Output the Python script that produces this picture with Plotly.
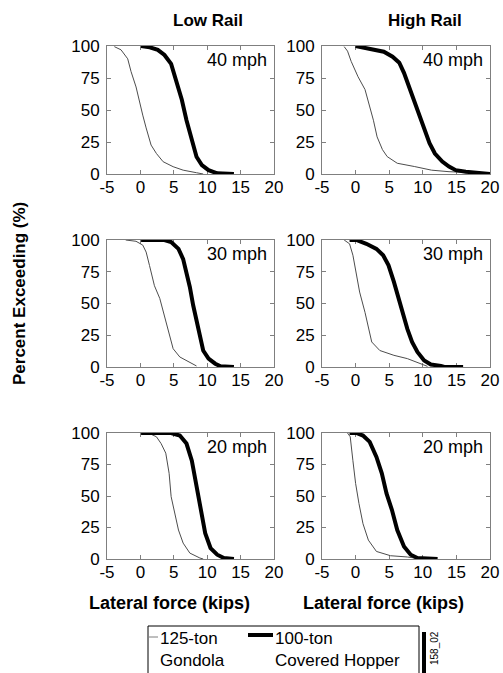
import plotly.graph_objects as go

W, H = 503, 673
FONT = "Liberation Sans, Arial, sans-serif"

# ---------------- data ----------------
column_titles = ["Low Rail", "High Rail"]
speed_labels = ["40 mph", "30 mph", "20 mph"]
x_ticks = [-5, 0, 5, 10, 15, 20]
x_tick_labels = ["-5", "0", "5", "10", "15", "20"]
y_ticks = [0, 25, 50, 75, 100]
series_names = ["125-ton<br>Gondola", "100-ton<br>Covered Hopper"]

# Low rail, 40 mph
low40_gon_x = [-3.9, -2.9, -1.9, -1.4, -0.65, -0.15, 0.35, 0.86, 1.6, 2.4, 3.4, 4.9, 6.4, 8.4, 9.4]
low40_gon_y = [99.5, 97, 90, 80, 68, 56.5, 46, 36, 22.6, 16, 9.6, 5.7, 3, 1, 0]
low40_hop_x = [0.1, 1.4, 2.6, 3.6, 4.6, 5.4, 6.2, 6.9, 7.7, 8.4, 9.2, 10.2, 11.5, 14.0]
low40_hop_y = [100, 99, 97, 93, 86, 73, 58, 42, 26.5, 13.5, 7, 3, 0.5, 0]

# High rail, 40 mph
high40_gon_x = [-1.7, -1.2, -0.66, 0.36, 1.4, 2.1, 2.65, 3.2, 4.0, 4.7, 6.2, 8.8, 11.3, 13.9, 17.0, 20.0]
high40_gon_y = [99.5, 96, 88, 76, 66, 53, 42, 29, 19, 13.6, 8.4, 5.8, 3, 1.8, 1.3, 0.5]
high40_hop_x = [0.0, 1.1, 2.65, 4.2, 5.5, 6.5, 7.2, 8.0, 8.8, 9.5, 10.3, 11.0, 11.8, 12.9, 13.9, 14.9, 16.4, 17.9, 19.0, 20.0]
high40_hop_y = [100, 98.7, 97, 95.5, 91.6, 87, 79, 67, 55.5, 45, 34.5, 24, 16, 9.7, 5.8, 3, 1.8, 1, 0, 0]

# Low rail, 30 mph
low30_gon_x = [-2.2, -0.66, 0.35, 0.86, 1.36, 2.1, 2.9, 3.6, 4.4, 4.9, 5.9, 7.2, 8.4]
low30_gon_y = [100, 99, 96, 90.5, 80, 64, 54, 40.7, 25, 14.4, 7.9, 3.9, 0.8]
low30_hop_x = [0.1, 3.6, 4.6, 5.7, 6.4, 6.9, 7.4, 7.9, 8.4, 8.9, 9.4, 10.2, 11.2, 12.0, 14.0]
low30_hop_y = [100, 100, 98.4, 93, 85, 75, 63, 48.6, 35.4, 22.3, 13, 6.6, 2.6, 0.5, 0]

# High rail, 30 mph
high30_gon_x = [-1.7, -0.9, -0.4, 0.1, 0.6, 1.4, 1.9, 2.4, 3.6, 5.7, 7.7, 9.7, 10.7]
high30_gon_y = [100, 97, 88, 72, 59, 43, 30, 19.7, 13, 9.2, 6.6, 2.6, 0.5]
high30_hop_x = [-0.9, 0.1, 1.6, 3.1, 4.1, 4.9, 5.7, 6.4, 6.9, 7.7, 8.4, 9.2, 10.2, 11.2, 12.7, 13.2, 16.0]
high30_hop_y = [100, 100, 97, 93, 88, 80, 67, 54, 43, 30, 19.7, 11.8, 5.2, 2, 0.8, 0, 0]

# Low rail, 20 mph
low20_gon_x = [0.1, 1.4, 2.4, 3.1, 3.8, 4.3, 4.6, 5.2, 5.7, 6.4, 7.4, 8.9, 9.4]
low20_gon_y = [100, 99.5, 97, 91.6, 84, 68, 49.5, 36, 23, 12.6, 4.7, 0.8, 0]
low20_hop_x = [0.1, 4.6, 5.9, 6.9, 7.7, 8.2, 8.7, 9.2, 9.7, 10.5, 11.5, 12.5, 14.0]
low20_hop_y = [100, 100, 98, 91.6, 78, 62.6, 47, 33.7, 20.5, 8.7, 3.4, 0.8, 0]

# High rail, 20 mph
high20_gon_x = [-1.2, -0.8, -0.4, 0.0, 0.5, 1.1, 1.9, 3.1, 5.2, 7.7, 9.7]
high20_gon_y = [100, 97, 78, 60, 44, 28, 15, 6, 2.6, 1.6, 0]
high20_hop_x = [-0.9, 0.1, 1.1, 2.1, 3.1, 3.9, 4.6, 5.4, 6.2, 7.2, 8.2, 9.2, 12.2]
high20_hop_y = [100, 100, 98, 93, 81, 68, 52, 39, 23, 10, 3.4, 0.8, 0]

panels = [
    (low40_gon_x, low40_gon_y, low40_hop_x, low40_hop_y),
    (high40_gon_x, high40_gon_y, high40_hop_x, high40_hop_y),
    (low30_gon_x, low30_gon_y, low30_hop_x, low30_hop_y),
    (high30_gon_x, high30_gon_y, high30_hop_x, high30_hop_y),
    (low20_gon_x, low20_gon_y, low20_hop_x, low20_hop_y),
    (high20_gon_x, high20_gon_y, high20_hop_x, high20_hop_y),
]

# ---------------- layout geometry (pixels) ----------------
def fx(px):
    return px / W

def fy(py):
    return 1 - py / H

col_px = [(107, 274), (322, 490)]
row_px = [(46, 174), (240, 367), (433, 559)]

fig = go.Figure()
layout = dict(
    width=W, height=H, margin=dict(l=0, r=0, t=0, b=0, autoexpand=False),
    paper_bgcolor="white", plot_bgcolor="white", showlegend=False,
    font=dict(family=FONT, size=17, color="black"),
)
annotations = []
shapes = []

for i, (gx, gy, hx, hy) in enumerate(panels):
    r, c = divmod(i, 2)
    n = i + 1
    xa = "xaxis" if n == 1 else f"xaxis{n}"
    ya = "yaxis" if n == 1 else f"yaxis{n}"
    xr = "x" if n == 1 else f"x{n}"
    yr = "y" if n == 1 else f"y{n}"
    x0, x1 = col_px[c]
    y0, y1 = row_px[r]
    common = dict(showline=True, linecolor="#7f7f7f", linewidth=1, mirror="allticks",
                  ticks="inside", ticklen=4, tickcolor="#7f7f7f", showgrid=False,
                  zeroline=False, layer="below traces", automargin=False,
                  tickfont=dict(family=FONT, size=17, color="black"), fixedrange=True)
    layout[xa] = dict(domain=[fx(x0), fx(x1)], range=[-5, 20], tickvals=x_ticks,
                      ticktext=x_tick_labels, tickmode="array",
                      anchor=yr, ticklabelstandoff=-2, **common)
    layout[ya] = dict(domain=[fy(y1), fy(y0)], range=[0, 100], tickvals=y_ticks,
                      anchor=xr, ticklabelstandoff=3, **common)
    fig.add_trace(go.Scatter(x=gx, y=gy, mode="lines", xaxis=xr, yaxis=yr,
                             line=dict(color="#4d4d4d", width=1), cliponaxis=False,
                             name="125-ton Gondola"))
    fig.add_trace(go.Scatter(x=hx, y=hy, mode="lines", xaxis=xr, yaxis=yr,
                             line=dict(color="black", width=4), cliponaxis=False,
                             name="100-ton Covered Hopper"))
    annotations.append(dict(text=speed_labels[r], xref="paper", yref="paper",
                            x=fx(x1 - 5), y=fy(y0 + 14), xanchor="right", yanchor="middle",
                            showarrow=False, font=dict(size=18)))

# column titles
for c, t in enumerate(column_titles):
    cx = [208, 425][c]
    annotations.append(dict(text=f"<b>{t}</b>", xref="paper", yref="paper", x=fx(cx), y=fy(20),
                            xanchor="center", yanchor="middle", showarrow=False,
                            font=dict(size=17)))
# x titles
for c in range(2):
    cx = [169, 383][c]
    annotations.append(dict(text="<b>Lateral force (kips)</b>", xref="paper", yref="paper",
                            x=fx(cx), y=fy(603), xanchor="center", yanchor="middle",
                            showarrow=False, font=dict(size=18)))
# y title
annotations.append(dict(text="<b>Percent Exceeding (%)</b>", xref="paper", yref="paper",
                        x=fx(19), y=fy(294), xanchor="center", yanchor="middle",
                        textangle=-90, showarrow=False, font=dict(size=17)))

# legend box
shapes.append(dict(type="rect", xref="paper", yref="paper", x0=fx(148), x1=fx(419),
                   y0=fy(690), y1=fy(626), line=dict(color="black", width=1)))
shapes.append(dict(type="line", xref="paper", yref="paper", x0=fx(149), x1=fx(158),
                   y0=fy(637), y1=fy(637), line=dict(color="#7f7f7f", width=1)))
shapes.append(dict(type="line", xref="paper", yref="paper", x0=fx(248), x1=fx(273),
                   y0=fy(635), y1=fy(635), line=dict(color="black", width=4)))
annotations.append(dict(text=series_names[0], xref="paper", yref="paper", x=fx(158),
                        y=fy(649), xanchor="left", yanchor="middle", align="left",
                        showarrow=False, font=dict(size=17)))
annotations.append(dict(text=series_names[1], xref="paper", yref="paper", x=fx(273),
                        y=fy(649), xanchor="left", yanchor="middle", align="left",
                        showarrow=False, font=dict(size=17)))
# side bar and id
shapes.append(dict(type="line", xref="paper", yref="paper", x0=fx(424), x1=fx(424),
                   y0=fy(632), y1=fy(680), line=dict(color="black", width=4)))
annotations.append(dict(text="158_02", xref="paper", yref="paper", x=fx(434), y=fy(648),
                        xanchor="center", yanchor="middle", textangle=-90,
                        showarrow=False, font=dict(size=10)))

layout["annotations"] = annotations
layout["shapes"] = shapes
fig.update_layout(**layout)
fig.write_html("out.html", config={"displayModeBar": False, "staticPlot": True},
               post_script="document.body.style.margin='0';document.body.style.overflow='hidden';")
